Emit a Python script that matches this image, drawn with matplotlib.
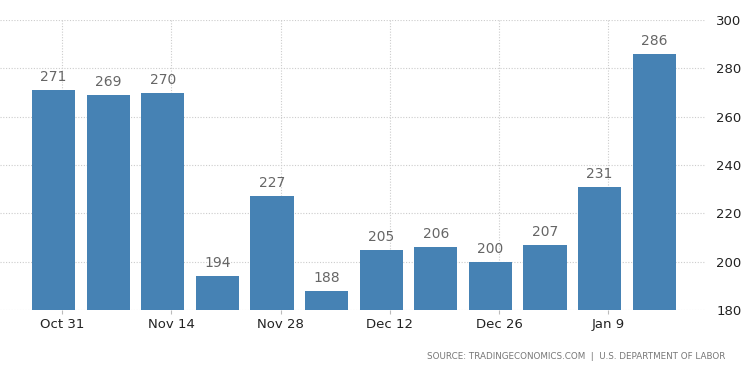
import matplotlib.pyplot as plt

values = [271, 269, 270, 194, 227, 188, 205, 206, 200, 207, 231, 286]
tick_labels = ['Oct 31', 'Nov 14', 'Nov 28', 'Dec 12', 'Dec 26', 'Jan 9']
tick_bars = [0, 2, 4, 6, 8, 10]
y_ticks = [180, 200, 220, 240, 260, 280, 300]

fig = plt.figure(figsize=(7.5, 3.73), dpi=100)
ax = fig.add_axes([0.0, 0.169, 0.94, 0.777])

x = list(range(len(values)))
ax.bar(x, [v - 180 for v in values], bottom=180, width=0.79, color='#4682b4', zorder=2)
for i, v in enumerate(values):
    ax.text(i, v + 2.5, str(v), ha='center', va='bottom', fontsize=10, color='#666666')

ax.set_xlim(-0.98, 11.93)
ax.set_ylim(180, 300)
ax.yaxis.tick_right()
ax.set_yticks(y_ticks)
ax.set_xticks([b + 0.16 for b in tick_bars])
ax.set_xticklabels(tick_labels)
ax.tick_params(axis='y', length=0, pad=8, labelsize=9.5, labelcolor='#222222')
ax.tick_params(axis='x', length=3, color='#bbbbbb', labelsize=9.5, labelcolor='#222222', pad=3)
ax.grid(True, linestyle=(0, (1, 1.5)), color='#cccccc', linewidth=0.8, zorder=0)
for s in ax.spines.values():
    s.set_visible(False)

fig.text(0.967, 0.045, 'SOURCE: TRADINGECONOMICS.COM  |  U.S. DEPARTMENT OF LABOR',
         ha='right', va='center', fontsize=6.3, color='#777777')

plt.savefig('out.png', dpi=100)
